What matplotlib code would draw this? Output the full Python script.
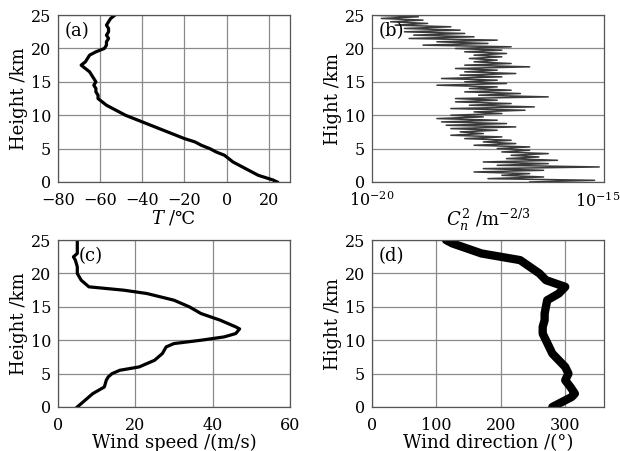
import numpy as np
import matplotlib
matplotlib.use("Agg")
import matplotlib.pyplot as plt
import matplotlib.transforms as mtransforms

plt.rcParams['font.family'] = ['DejaVu Serif', 'DejaVu Sans']
plt.rcParams['mathtext.fontset'] = 'dejavuserif'
plt.rcParams['font.size'] = 11.5
LABEL_FS = 13

# (a) temperature profile
t_height = [0, 0.3, 0.6, 1, 1.5, 2, 2.5, 3, 3.5, 4, 4.5, 5, 5.5, 6, 6.5, 7, 7.5, 8, 8.5, 9,
            9.5, 10, 10.5, 11, 11.5, 12, 12.5, 13, 13.5, 14, 14.5, 15, 15.5, 16, 16.5, 17,
            17.5, 18, 18.5, 19, 19.5, 20, 20.5, 21, 21.5, 22, 22.5, 23, 23.5, 24, 24.5, 25]
t_temp = [24, 22, 19, 15, 12, 9, 6, 3, 1, -1, -5, -8, -12, -15, -20, -24, -28, -32, -36, -40,
          -44, -48, -51, -54, -57, -59, -61, -61, -62, -62, -63, -62, -63, -64, -65, -67,
          -69, -67, -66, -65, -62, -58, -57, -57, -56, -57, -56, -56, -57, -56, -55, -53]

# (b) Cn2 profile: left / right excursions (log10) at each height level
cn_height = [0, 0.5, 1, 1.5, 2, 2.5, 3, 3.5, 4, 4.5, 5, 5.5, 6, 6.5, 7, 7.5, 8, 8.5, 9, 9.5,
             10, 10.5, 11, 11.5, 12, 12.5, 13, 13.5, 14, 14.5, 15, 15.5, 16, 16.5, 17, 17.5,
             18, 18.5, 19, 19.5, 20, 20.5, 21, 21.5, 22, 22.5, 23, 23.5, 24, 24.5, 25]
cn_lo = [-16.6, -17.5, -17.2, -17.8, -17.6, -17.3, -17.6, -17.1, -17.0, -17.2, -17.3, -17.8,
         -17.6, -18.0, -18.3, -18.1, -18.3, -18.4, -18.5, -18.6, -18.3, -17.8, -18.3, -17.9,
         -18.2, -18.2, -17.7, -18.0, -17.9, -18.6, -18.0, -18.5, -18.1, -18.0, -18.2, -18.0,
         -17.8, -17.9, -17.8, -18.0, -18.2, -18.9, -18.6, -19.2, -19.1, -19.3, -19.3, -19.5,
         -19.6, -19.8, -20.0]
cn_hi = [-15.2, -16.3, -16.6, -16.3, -15.1, -16.2, -16.0, -16.4, -16.2, -16.6, -16.6, -16.9,
         -17.0, -17.2, -17.6, -17.3, -16.9, -17.1, -17.3, -17.6, -17.2, -16.7, -16.5, -17.0,
         -17.3, -16.2, -16.8, -17.0, -17.3, -17.1, -17.3, -17.2, -16.9, -17.3, -16.6, -17.0,
         -17.3, -17.2, -17.1, -17.2, -17.0, -17.5, -17.3, -17.8, -18.0, -18.1, -18.3, -18.8,
         -18.9, -19.0, -19.3]

# (c) wind speed
ws_height = [0, 1, 2, 3, 4, 4.5, 5, 5.5, 6, 6.5, 7, 8, 9, 9.5, 10, 10.5, 11, 11.7, 12, 13,
             14, 15, 16, 17, 17.5, 18, 18.5, 19, 20, 21, 22, 22.5, 23, 24, 25]
ws_speed = [5, 7, 9, 12, 12.5, 13, 14, 16, 21, 23, 25, 27, 28, 30, 37, 43, 46, 47, 46, 42,
            37, 34, 30, 23, 17, 8, 7, 6, 5, 5, 4.5, 4, 5, 5, 5]

# (d) wind direction
wd_height = [0, 0.5, 1, 1.5, 2, 3, 4, 5, 6, 7, 8, 9, 10, 11, 12, 13, 14, 15, 16, 17, 18,
             18.5, 19, 20, 21, 22, 22.5, 23, 23.5, 24, 24.5, 25]
wd_dir = [280, 290, 300, 310, 315, 308, 300, 305, 300, 290, 280, 275, 270, 265, 265, 268,
          268, 270, 272, 290, 300, 285, 270, 260, 245, 230, 200, 170, 155, 140, 125, 115]

fig = plt.figure(figsize=(6.2, 4.51), dpi=100)
W, H = 0.374, 0.370
axa = fig.add_axes([0.0935, 0.5965, W, H])
axb = fig.add_axes([0.600, 0.5965, W, H])
axc = fig.add_axes([0.0935, 0.0976, W, H])
axd = fig.add_axes([0.600, 0.0976, W, H])

grid_kw = dict(color='#8a8a8a', lw=0.9)

def style(ax):
    for s in ax.spines.values():
        s.set_color('#555555')
        s.set_linewidth(0.9)
    ax.tick_params(axis='x', length=0, pad=7)
    ax.tick_params(axis='y', length=0, pad=5)
    ax.set_ylim(0, 25)
    ax.set_yticks([0, 5, 10, 15, 20, 25])

# (a)
axa.plot(t_temp, t_height, color='black', lw=2.3)
axa.set_xlim(-80, 30)
axa.set_xticks([-80, -60, -40, -20, 0, 20])
style(axa)
axa.grid(True, **grid_kw)
axa.set_ylabel('Height /km', labelpad=2, fontsize=LABEL_FS)
axa.set_xlabel('$T$ /\u2103', labelpad=0, fontsize=LABEL_FS)
axa.text(0.03, 0.96, '(a)', transform=axa.transAxes, va='top', ha='left', fontsize=LABEL_FS)

# (b)
xs, ys = [], []
for h, lo, hi in zip(cn_height, cn_lo, cn_hi):
    xs += [10.0 ** lo, 10.0 ** hi]
    ys += [h, min(h + 0.25, 25)]
axb.plot(xs, ys, color='#3a3a3a', lw=1.1)
axb.set_xscale('log')
axb.set_xlim(1e-20, 1e-15)
axb.set_xticks([1e-20, 1e-15])
axb.minorticks_off()
style(axb)
axb.grid(True, axis='y', **grid_kw)
axb.set_ylabel('Hight /km', labelpad=2, fontsize=LABEL_FS)
axb.set_xlabel('$C_n^2$ /m$^{-2/3}$', labelpad=-3, fontsize=LABEL_FS)
axb.text(0.03, 0.96, '(b)', transform=axb.transAxes, va='top', ha='left', fontsize=LABEL_FS)
fig.canvas.draw()
last = axb.get_xticklabels()[-1]
last.set_transform(last.get_transform() + mtransforms.ScaledTranslation(-6 / 100, 0, fig.dpi_scale_trans))

# (c)
axc.plot(ws_speed, ws_height, color='black', lw=2.3)
axc.set_xlim(0, 60)
axc.set_xticks([0, 20, 40, 60])
style(axc)
axc.grid(True, **grid_kw)
axc.set_ylabel('Height /km', labelpad=2, fontsize=LABEL_FS)
axc.set_xlabel('Wind speed /(m/s)', labelpad=0, fontsize=LABEL_FS)
axc.text(0.09, 0.96, '(c)', transform=axc.transAxes, va='top', ha='left', fontsize=LABEL_FS)

# (d)
axd.plot(wd_dir, wd_height, color='black', lw=6, solid_capstyle='round')
axd.set_xlim(0, 360)
axd.set_xticks([0, 100, 200, 300])
style(axd)
axd.grid(True, **grid_kw)
axd.set_ylabel('Hight /km', labelpad=2, fontsize=LABEL_FS)
axd.set_xlabel('Wind direction /(\u00b0)', labelpad=0, fontsize=LABEL_FS)
axd.text(0.03, 0.96, '(d)', transform=axd.transAxes, va='top', ha='left', fontsize=LABEL_FS)

fig.savefig('out.png', dpi=100)
